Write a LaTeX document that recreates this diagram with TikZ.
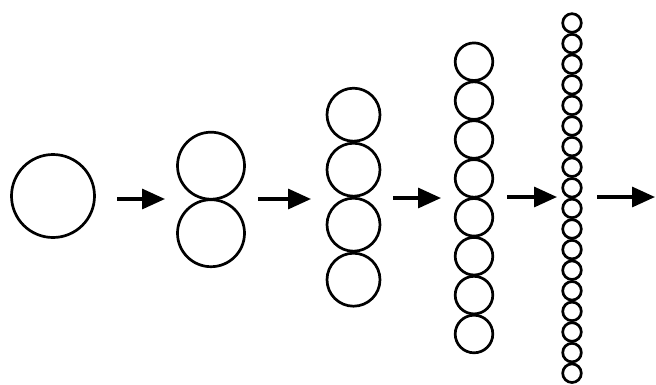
\documentclass[tikz,border=0pt]{standalone}
\usepackage{tikz}
\usetikzlibrary{arrows.meta}

\begin{document}
\begin{tikzpicture}[
  x=1pt, y=-1pt,
  ball/.style={draw, circle, line width=2.7pt, inner sep=0pt, minimum size=#1},
  arrow/.style={-{Triangle[length=23pt, width=20pt]}, line width=3.3pt}
]
\useasboundingbox (0,0) rectangle (656,384);

%% Columns of circles, left to right
\node[ball=83pt] (c1-1) at (53,196) {};
\foreach \i in {1,...,2}
  \node[ball=67pt] (c2-\i) at (211, {165.7+(\i-1)*67.5}) {};
\foreach \i in {1,...,4}
  \node[ball=53pt] (c3-\i) at (353.5, {114.7+(\i-1)*55}) {};
\foreach \i in {1,...,8}
  \node[ball=37.6pt] (c4-\i) at (474, {61.7+(\i-1)*38.9}) {};
\foreach \i in {1,...,18}
  \node[ball=18.6pt] (c5-\i) at (572, {23+(\i-1)*20.6}) {};

%% Arrow ends
\coordinate (a1-from) at (117,199); \coordinate (a1-to) at (165,199);
\coordinate (a2-from) at (258,199); \coordinate (a2-to) at (311,199);
\coordinate (a3-from) at (393,198); \coordinate (a3-to) at (441,198);
\coordinate (a4-from) at (507,197); \coordinate (a4-to) at (557,197);
\coordinate (a5-from) at (597,197); \coordinate (a5-to) at (655,197);

%% Arrows
\draw[arrow] (a1-from) -- (a1-to);
\draw[arrow] (a2-from) -- (a2-to);
\draw[arrow] (a3-from) -- (a3-to);
\draw[arrow] (a4-from) -- (a4-to);
\draw[arrow] (a5-from) -- (a5-to);

\end{tikzpicture}
\end{document}
